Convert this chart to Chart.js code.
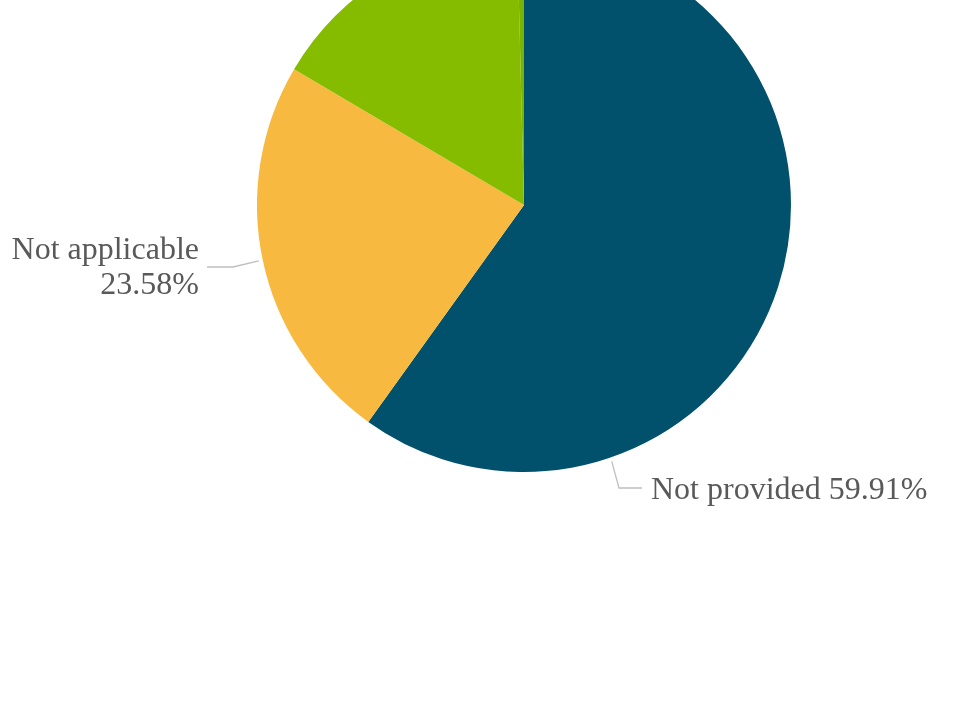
<!DOCTYPE html>
<html>
<head>
<meta charset="utf-8">
<script src="https://cdn.jsdelivr.net/npm/chart.js@4"></script>
<style>
  html, body { margin: 0; padding: 0; background: #fff; overflow: hidden; }
  #wrap { position: relative; width: 961px; height: 704px; overflow: hidden; }
  #box { position: absolute; left: 0; top: -62px; width: 961px; height: 766px; }
</style>
</head>
<body>
<div id="wrap"><div id="box"><canvas id="chart"></canvas></div></div>
<script>
// Share of responses, clockwise from 12 o'clock
const categories = ['Not provided', 'Not applicable', 'Provided', 'Other'];
const shares = [59.91, 23.58, 16.11, 0.40];
const sliceColors = ['#01516c', '#f7b93f', '#85bc00', '#79b500'];

// Callout placement, offsets from the pie centre
const callouts = [
  { index: 0, along: 0.747, lines: ['Not provided 59.91%'], align: 'left',
    textX: 127, baseY: [294], elbow: [95, 283], end: [118, 283] },
  { index: 1, along: 0.5, lines: ['Not applicable', '23.58%'], align: 'right',
    textX: -325, baseY: [54, 89], elbow: [-291, 62], end: [-317, 62] }
];

const calloutPlugin = {
  id: 'callouts',
  afterDatasetsDraw(chart) {
    const ctx = chart.ctx;
    const arcs = chart.getDatasetMeta(0).data;
    ctx.save();
    callouts.forEach(function (c) {
      const arc = arcs[c.index];
      const a = arc.startAngle + (arc.endAngle - arc.startAngle) * c.along;
      const r = arc.outerRadius + 4;
      const ax = arc.x + Math.cos(a) * r;
      const ay = arc.y + Math.sin(a) * r;
      ctx.strokeStyle = '#bfbfbf';
      ctx.lineWidth = 1.3;
      ctx.beginPath();
      ctx.moveTo(ax, ay);
      ctx.lineTo(arc.x + c.elbow[0], arc.y + c.elbow[1]);
      ctx.lineTo(arc.x + c.end[0], arc.y + c.end[1]);
      ctx.stroke();

      ctx.fillStyle = '#595959';
      ctx.font = '32px "Liberation Serif", "Times New Roman", serif';
      ctx.textAlign = c.align;
      ctx.textBaseline = 'alphabetic';
      c.lines.forEach(function (t, i) {
        ctx.fillText(t, arc.x + c.textX, arc.y + c.baseY[i]);
      });
    });
    ctx.restore();
  }
};

new Chart(document.getElementById('chart'), {
  type: 'pie',
  data: {
    labels: categories,
    datasets: [{
      data: shares,
      backgroundColor: sliceColors,
      borderWidth: 0
    }]
  },
  options: {
    responsive: true,
    maintainAspectRatio: false,
    animation: false,
    layout: { padding: { left: 257, right: 170, top: 0, bottom: 232 } },
    plugins: {
      legend: { display: false },
      tooltip: { enabled: false }
    }
  },
  plugins: [calloutPlugin]
});
</script>
</body>
</html>
